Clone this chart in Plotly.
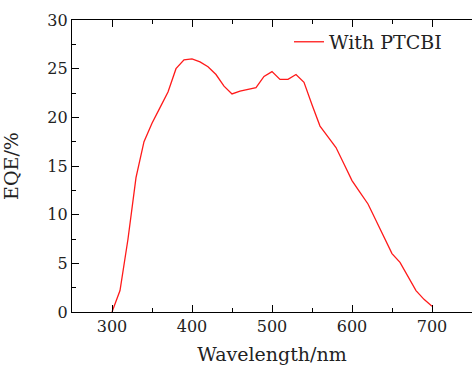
import plotly.graph_objects as go

wavelength = [300, 310, 320, 330, 340, 350, 360, 370, 380, 390, 400, 410, 420, 430, 440,
              450, 460, 470, 480, 490, 500, 510, 520, 530, 540, 550, 560, 570, 580, 590,
              600, 610, 620, 630, 640, 650, 660, 670, 680, 690, 700]
eqe = [0.0, 2.2, 7.5, 13.8, 17.5, 19.4, 21.0, 22.6, 25.0, 25.9, 26.0, 25.7, 25.2, 24.4, 23.2,
       22.4, 22.7, 22.9, 23.05, 24.2, 24.7, 23.9, 23.9, 24.4, 23.6, 21.3, 19.1, 18.0, 16.9, 15.2,
       13.5, 12.3, 11.1, 9.4, 7.7, 6.0, 5.1, 3.6, 2.2, 1.3, 0.6]
series_name = "With PTCBI"
x_ticks = [300, 400, 500, 600, 700]
y_ticks = [0, 5, 10, 15, 20, 25, 30]

font_family = "DejaVu Serif"

fig = go.Figure()
fig.add_trace(go.Scatter(x=wavelength, y=eqe, mode="lines", name=series_name,
                         line=dict(color="#ff1a1a", width=1.3)))

fig.update_layout(
    width=472, height=365,
    margin=dict(l=72, r=0, t=20, b=53),
    paper_bgcolor="white", plot_bgcolor="white",
    font=dict(family=font_family, size=16, color="#222"),
    showlegend=True,
    legend=dict(x=0.5425, y=0.99, xanchor="left", yanchor="top",
                bgcolor="rgba(0,0,0,0)", font=dict(size=19, family=font_family),
                itemwidth=30),
)
fig.update_xaxes(
    range=[250, 750], tickvals=x_ticks, showgrid=False, zeroline=False,
    showline=True, linecolor="black", linewidth=1.3, mirror="ticks",
    ticks="inside", ticklen=7, tickwidth=1.2, tickcolor="black",
    minor=dict(dtick=50, tick0=250, ticks="inside", ticklen=4, tickwidth=1, tickcolor="black"),
    title=dict(text="Wavelength/nm", font=dict(size=19, family=font_family), standoff=13),
)
fig.update_yaxes(
    range=[0, 30], tickvals=y_ticks, showgrid=False, zeroline=False,
    showline=True, linecolor="black", linewidth=1.3,
    ticks="inside", ticklen=7, tickwidth=1.2, tickcolor="black",
    minor=dict(dtick=2.5, tick0=0, ticks="inside", ticklen=4, tickwidth=1, tickcolor="black"),
    title=dict(text="EQE/%", font=dict(size=19, family=font_family), standoff=27),
)

fig.write_html("out.html")
